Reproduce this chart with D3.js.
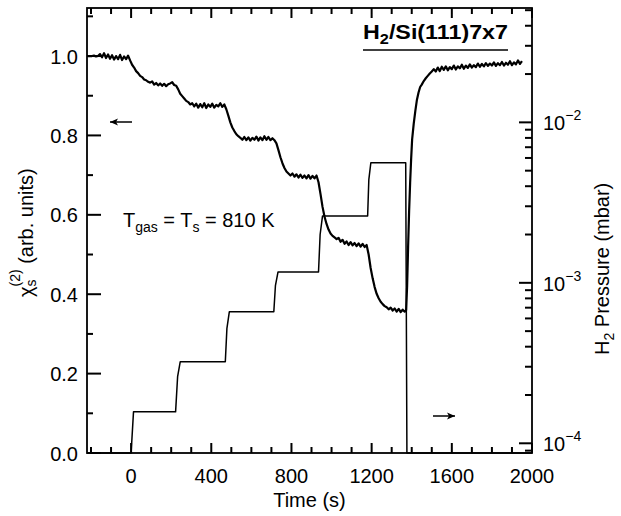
<!DOCTYPE html>
<html><head><meta charset="utf-8">
<script src="https://cdn.jsdelivr.net/npm/d3@7"></script>
<style>
body{margin:0;background:#fff}
svg{display:block}
text{font-family:"Liberation Sans",Arial,Helvetica,sans-serif;fill:#000}
</style>
</head><body>
<svg id="c" width="621" height="516"></svg>
<script>
// ---- data ----
// SHG signal chi_s^(2) (left axis, arb. units) : [time (s), value]
const shgPoints = [
[-215,1.000],[-205,1.000],[-195,1.000],[-185,1.001],[-175,0.999],[-165,1.000],[-155,1.005],[-145,0.997],
[-135,1.007],[-125,0.995],[-115,1.004],[-105,0.993],[-95,1.002],[-85,0.991],[-75,1.000],[-65,0.992],
[-55,1.003],[-45,0.990],[-35,0.999],[-25,0.992],[-15,1.001],[-5,0.989],[5,0.978],[15,0.971],[25,0.962],
[35,0.957],[45,0.950],[55,0.947],[65,0.941],[75,0.939],[85,0.935],[95,0.933],[105,0.936],[115,0.928],
[125,0.932],[135,0.926],[145,0.931],[155,0.925],[165,0.930],[175,0.924],[185,0.929],[195,0.931],[205,0.934],
[215,0.927],[225,0.925],[235,0.916],[245,0.905],[255,0.899],[265,0.893],[275,0.887],[285,0.884],[295,0.878],
[305,0.881],[315,0.873],[325,0.880],[335,0.870],[345,0.879],[355,0.871],[365,0.881],[375,0.869],[385,0.878],
[395,0.872],[405,0.880],[415,0.870],[425,0.877],[435,0.873],[445,0.881],[455,0.872],[465,0.878],[475,0.866],
[485,0.850],[495,0.833],[505,0.820],[515,0.811],[525,0.803],[535,0.798],[545,0.794],[555,0.789],[565,0.796],
[575,0.788],[585,0.795],[595,0.787],[605,0.794],[615,0.789],[625,0.797],[635,0.787],[645,0.795],[655,0.788],
[665,0.798],[675,0.789],[685,0.796],[695,0.788],[705,0.793],[715,0.788],[725,0.780],[735,0.763],[745,0.745],
[755,0.730],[765,0.718],[775,0.709],[785,0.704],[795,0.699],[805,0.704],[815,0.696],[825,0.702],[835,0.694],
[845,0.701],[855,0.693],[865,0.699],[875,0.692],[885,0.700],[895,0.691],[905,0.698],[915,0.692],[925,0.699],
[935,0.682],[945,0.652],[955,0.620],[965,0.595],[975,0.577],[985,0.563],[995,0.553],[1005,0.547],[1015,0.543],
[1025,0.539],[1035,0.542],[1045,0.532],[1055,0.537],[1065,0.527],[1075,0.533],[1085,0.524],[1095,0.531],
[1105,0.523],[1115,0.529],[1125,0.521],[1135,0.528],[1145,0.520],[1155,0.527],[1165,0.519],[1175,0.524],
[1185,0.500],[1195,0.466],[1205,0.440],[1215,0.418],[1225,0.401],[1235,0.390],[1245,0.381],[1255,0.375],
[1265,0.370],[1275,0.367],[1285,0.362],[1295,0.366],[1305,0.359],[1315,0.364],[1325,0.356],[1335,0.363],
[1345,0.355],[1355,0.361],[1365,0.356],[1372,0.360],[1377,0.420],[1382,0.520],[1387,0.610],[1392,0.680],
[1397,0.740],[1402,0.790],[1410,0.830],[1418,0.862],[1426,0.890],[1434,0.908],[1442,0.922],[1450,0.928],
[1460,0.937],[1470,0.944],[1480,0.950],[1490,0.956],[1500,0.961],[1510,0.967],[1520,0.961],[1530,0.971],
[1540,0.962],[1550,0.973],[1560,0.965],[1570,0.974],[1580,0.964],[1590,0.972],[1600,0.967],[1610,0.976],
[1620,0.966],[1630,0.974],[1640,0.969],[1650,0.978],[1660,0.968],[1670,0.976],[1680,0.970],[1690,0.979],
[1700,0.971],[1710,0.977],[1720,0.972],[1730,0.981],[1740,0.973],[1750,0.980],[1760,0.974],[1770,0.982],
[1780,0.975],[1790,0.981],[1800,0.976],[1810,0.984],[1820,0.975],[1830,0.982],[1840,0.977],[1850,0.985],
[1860,0.976],[1870,0.983],[1880,0.978],[1890,0.987],[1900,0.977],[1910,0.984],[1920,0.979],[1930,0.989],
[1940,0.980],[1950,0.987]
];
// H2 pressure (right axis, mbar) : [time (s), pressure]; 8.7e-5 = bottom of axis (gas off)
const pressurePoints = [
[-220,8.7e-5],[0,8.7e-5],[12,1.57e-4],[222,1.57e-4],[232,2.6e-4],[245,3.22e-4],[470,3.22e-4],[478,5.2e-4],
[490,6.6e-4],[712,6.6e-4],[720,9.6e-4],[733,1.17e-3],[935,1.17e-3],[943,2.0e-3],[955,2.61e-3],[1180,2.61e-3],
[1186,4.4e-3],[1196,5.6e-3],[1370,5.6e-3],[1376,8.7e-5],[2000,8.7e-5]
];
const xMajorTicks = [0,400,800,1200,1600,2000];
const xMinorTicks = [-200,-100,100,200,300,500,600,700,900,1000,1100,1300,1400,1500,1700,1800,1900];
const yLeftMajor = [0,0.2,0.4,0.6,0.8,1.0];
const yLeftMinor = [0.1,0.3,0.5,0.7,0.9,1.1];
const yRightMajor = [1e-4,1e-3,1e-2];
const yRightExp = ["−4","−3","−2"];
const yRightMinor = [9e-5,2e-4,3e-4,4e-4,5e-4,6e-4,7e-4,8e-4,9e-4,2e-3,3e-3,4e-3,5e-3,6e-3,7e-3,8e-3,9e-3,2e-2,3e-2,4e-2,5e-2];

// ---- layout ----
const L=87,R=532,T=8,B=453;
const svg=d3.select("#c");
const x=d3.scaleLinear([-220,2000],[L,R]);
const yL=d3.scaleLinear([0,1.121],[B,T]);
const yR=d3.scaleLog([8.7e-5,0.0516],[B,T]);

// frame
svg.append("rect").attr("x",L).attr("y",T).attr("width",R-L).attr("height",B-T)
  .attr("fill","none").attr("stroke","#000").attr("stroke-width",1.8);

// ticks (all inward), one line per tick, positioned by the scales
const tg=svg.append("g");
function addTicks(vals,f){
  vals.forEach(d=>{const c=f(d);
    tg.append("line").attr("x1",c[0]).attr("y1",c[1]).attr("x2",c[2]).attr("y2",c[3])
      .attr("stroke","#000").attr("stroke-width",2);});
}
addTicks(xMinorTicks,d=>[x(d),B,x(d),B-6]);
addTicks(xMinorTicks,d=>[x(d),T,x(d),T+6]);
addTicks(xMajorTicks,d=>[x(d),B,x(d),B-10]);
addTicks(xMajorTicks,d=>[x(d),T,x(d),T+10]);
addTicks(yLeftMinor,d=>[L,yL(d),L+6,yL(d)]);
addTicks(yLeftMajor,d=>[L,yL(d),L+14,yL(d)]);
addTicks(yRightMinor,d=>[R,yR(d),R-7,yR(d)]);
addTicks(yRightMajor,d=>[R,yR(d),R-13,yR(d)]);

// tick labels
svg.selectAll(null).data(xMajorTicks).join("text")
  .attr("x",d=>x(d)).attr("y",483).attr("text-anchor","middle").attr("font-size",20)
  .text(d3.format("d"));
svg.selectAll(null).data(yLeftMajor).join("text")
  .attr("x",78).attr("y",d=>yL(d)+7.5).attr("text-anchor","end").attr("font-size",20)
  .text(d3.format(".1f"));
yRightMajor.forEach((v,i)=>{
  const t=svg.append("text").attr("x",R+11).attr("y",yR(v)+8).attr("font-size",20);
  t.append("tspan").text("10");
  t.append("tspan").attr("font-size",14).attr("dy",-10).text(yRightExp[i]);
});

// series (all values lie inside the axis ranges, so no clipping is needed)
svg.append("path").datum(pressurePoints)
  .attr("d",d3.line().x(d=>x(d[0])).y(d=>yR(d[1])))
  .attr("fill","none").attr("stroke","#000").attr("stroke-width",1.5).attr("stroke-linejoin","round");
svg.append("path").datum(shgPoints)
  .attr("d",d3.line().x(d=>x(d[0])).y(d=>yL(d[1])))
  .attr("fill","none").attr("stroke","#000").attr("stroke-width",2.2).attr("stroke-linejoin","round");

// axis titles
svg.append("text").attr("x",(L+R)/2).attr("y",507).attr("text-anchor","middle").attr("font-size",20).text("Time (s)");
const yt=svg.append("text").attr("transform","translate(33,297) rotate(-90)").attr("font-size",20);
yt.append("tspan").text("χ");
yt.append("tspan").attr("font-size",14).attr("dy",3).text("s");
yt.append("tspan").attr("font-size",14).attr("dx",-7).attr("dy",-16).text("(2)");
yt.append("tspan").attr("dy",13).text(" (arb. units)");
const rt=svg.append("text").attr("transform","translate(609,355) rotate(-90)").attr("font-size",20);
rt.append("tspan").text("H");
rt.append("tspan").attr("font-size",14).attr("dy",5).text("2");
rt.append("tspan").attr("dy",-5).text(" Pressure (mbar)");

// title
const tt=svg.append("text").attr("x",363).attr("y",39).attr("font-size",20).attr("font-weight","bold")
  .attr("textLength",145).attr("lengthAdjust","spacingAndGlyphs");
tt.append("tspan").text("H");
tt.append("tspan").attr("font-size",14).attr("dy",5).text("2");
tt.append("tspan").attr("dy",-5).text("/Si(111)7x7");
svg.append("line").attr("x1",363).attr("x2",508).attr("y1",50).attr("y2",50).attr("stroke","#000").attr("stroke-width",1.6);

// annotation
const an=svg.append("text").attr("x",123).attr("y",227).attr("font-size",20);
an.append("tspan").text("T");
an.append("tspan").attr("font-size",14).attr("dy",5).text("gas");
an.append("tspan").attr("dy",-5).text(" = T");
an.append("tspan").attr("font-size",14).attr("dy",5).text("s");
an.append("tspan").attr("dy",-5).text(" = 810 K");

// arrows
function arrow(x1,x2,y){
  const dir=Math.sign(x2-x1);
  svg.append("line").attr("x1",x1).attr("x2",x2).attr("y1",y).attr("y2",y).attr("stroke","#000").attr("stroke-width",1.5);
  svg.append("path").attr("d",`M${x2},${y} L${x2-dir*8},${y-3.5} L${x2-dir*6},${y} L${x2-dir*8},${y+3.5} Z`).attr("fill","#000");
}
arrow(132,110,122);
arrow(433,455,416);
</script>
</body></html>
